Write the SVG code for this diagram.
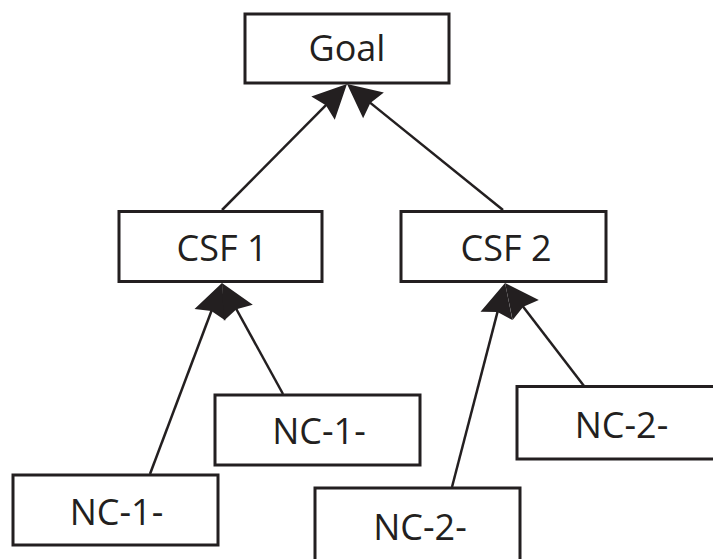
<svg xmlns="http://www.w3.org/2000/svg" width="713" height="559" viewBox="0 0 713 559">
<style>
.box{fill:#fff;stroke:#231f20;stroke-width:3}
.lbl{font-family:"Open Sans","Liberation Sans",sans-serif;font-size:36px;fill:#231f20;text-anchor:middle}
.conn{stroke:#231f20;stroke-width:2.5;fill:none;marker-end:url(#ah)}
</style>
<defs>
<marker id="ah" markerUnits="userSpaceOnUse" orient="auto" markerWidth="60" markerHeight="40" refX="0" refY="0" viewBox="-20 -20 45 40" overflow="visible">
<path d="M20,0 L-14,-16.5 L-10,0 L-14,16.5 Z" fill="#231f20"/>
</marker>
</defs>
<rect width="713" height="559" fill="#fff"/>
<g id="connectors">
<line class="conn" x1="222" y1="210" x2="332.9" y2="98.2"/>
<line class="conn" x1="503" y1="210" x2="362.6" y2="96.6"/>
<line class="conn" x1="150" y1="474" x2="214.9" y2="301.7"/>
<line class="conn" x1="283" y1="394" x2="231.6" y2="300.5"/>
<line class="conn" x1="452" y1="487" x2="500" y2="302.4"/>
<line class="conn" x1="584" y1="386" x2="517.2" y2="298.9"/>
</g>
<g id="goal">
<rect class="box" x="245" y="14" width="204" height="69"/>
<text class="lbl" x="347" y="61">Goal</text>
</g>
<g id="csf1">
<rect class="box" x="119" y="211.5" width="203" height="70"/>
<text class="lbl" x="222" y="261">CSF 1</text>
</g>
<g id="csf2">
<rect class="box" x="401" y="211.5" width="205" height="70"/>
<text class="lbl" x="506" y="261">CSF 2</text>
</g>
<g id="nc1a">
<rect class="box" x="13" y="475" width="205" height="70"/>
<text class="lbl" x="116.5" y="525">NC-1-</text>
</g>
<g id="nc1b">
<rect class="box" x="215" y="395" width="205" height="70"/>
<text class="lbl" x="319" y="444">NC-1-</text>
</g>
<g id="nc2a">
<rect class="box" x="315" y="488" width="205" height="90"/>
<text class="lbl" x="420" y="540">NC-2-</text>
</g>
<g id="nc2b">
<rect class="box" x="517" y="386.5" width="210" height="72.5"/>
<text class="lbl" x="621.5" y="437.5">NC-2-</text>
</g>
</svg>
